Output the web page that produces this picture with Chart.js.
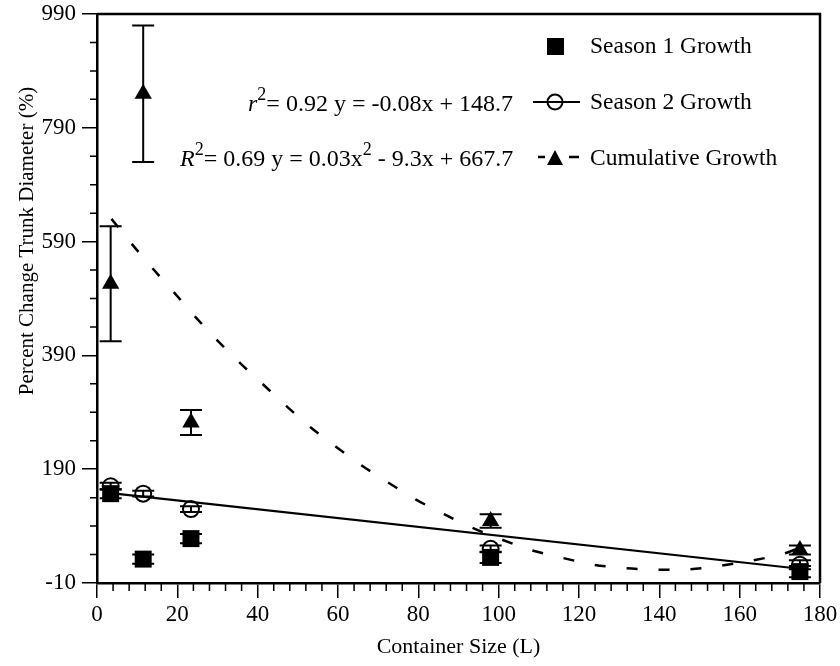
<!DOCTYPE html>
<html>
<head>
<meta charset="utf-8">
<script src="https://cdn.jsdelivr.net/npm/chart.js@4.4.0/dist/chart.umd.min.js"></script>
<style>
  html, body { margin: 0; padding: 0; background: #fff; }
</style>
</head>
<body>
<canvas id="trunk_chart" width="840" height="666"></canvas>
<script>
// container sizes (L) and growth per season, with error bar half-widths
const containerSizes = [3.4, 11.5, 23.4, 98, 175];
const season1 = [147, 32, 68, 35, 10];
const season1Err = [8, 8, 8, 10, 10];
const season2 = [160, 147, 120, 50, 22];
const season2Err = [6, 5, 5, 6, 8];
const cumulative = [516, 850, 272, 99, 48];
const cumulativeErr = [101, 120, 22, 12, 8];

// fitted trends
const linearFitX = [3.4, 175];
const linearFitY = [148, 15];
const quadFitX = [3.6, 9.0, 14.2, 19.5, 24.7, 30.0, 35.7, 41.5, 47.3, 53.3, 59.4, 65.8, 72.4, 79.3, 86.4, 93.4, 100.5, 108, 116, 123.7, 131.7, 139.4, 147.4, 154.9, 162.8, 170.7, 175];
const quadFitY = [630, 583, 540, 498, 456, 416, 376, 338, 300, 263, 230, 197, 167, 137, 111, 87, 67, 48, 34, 22, 16, 13.5, 14, 20, 29, 41, 52];

const xTicks = [0, 20, 40, 60, 80, 100, 120, 140, 160, 180];
const yTicks = [-10, 190, 390, 590, 790, 990];

const FONT = "'Liberation Serif', 'Times New Roman', serif";
Chart.defaults.font.family = FONT;
Chart.defaults.color = "#000";

const toPoints = (xs, ys) => xs.map((x, i) => ({ x: x, y: ys[i] }));

// vertical error bars with caps, drawn under the markers
const errorBars = {
  id: "errorBars",
  beforeDatasetsDraw(chart) {
    const ctx = chart.ctx;
    const xs = chart.scales.x, ys = chart.scales.y;
    ctx.save();
    ctx.strokeStyle = "#000";
    ctx.lineWidth = 2;
    chart.data.datasets.forEach(ds => {
      if (!ds.errors) return;
      ds.data.forEach((p, i) => {
        const e = ds.errors[i];
        const px = xs.getPixelForValue(p.x);
        const top = ys.getPixelForValue(p.y + e);
        const bot = ys.getPixelForValue(p.y - e);
        ctx.beginPath();
        ctx.moveTo(px, top); ctx.lineTo(px, bot);
        ctx.moveTo(px - 11, top); ctx.lineTo(px + 11, top);
        ctx.moveTo(px - 11, bot); ctx.lineTo(px + 11, bot);
        ctx.stroke();
      });
    });
    ctx.restore();
  }
};

function drawPieces(ctx, x, y, pieces) {
  pieces.forEach(p => {
    ctx.font = (p.italic ? "italic " : "") + p.size + "px " + FONT;
    ctx.fillText(p.text, x, y + (p.dy || 0));
    x += ctx.measureText(p.text).width;
  });
}

// frame, minor ticks, y title, equations and legend
const decorations = {
  id: "decorations",
  afterDraw(chart) {
    const ctx = chart.ctx;
    const a = chart.chartArea;
    const xs = chart.scales.x, ys = chart.scales.y;
    ctx.save();
    ctx.strokeStyle = "#000";
    ctx.lineWidth = 2.5;
    ctx.beginPath();
    ctx.moveTo(a.left, a.top); ctx.lineTo(a.right, a.top); ctx.lineTo(a.right, a.bottom);
    ctx.stroke();

    ctx.lineWidth = 1.5;
    ctx.beginPath();
    for (let v = 0; v <= 180; v += 4) {
      if (v % 20 === 0) continue;
      const px = xs.getPixelForValue(v);
      ctx.moveTo(px, a.bottom); ctx.lineTo(px, a.bottom + 8);
    }
    for (let v = -10; v <= 990; v += 50) {
      if ((v + 10) % 200 === 0) continue;
      const py = ys.getPixelForValue(v);
      ctx.moveTo(a.left, py); ctx.lineTo(a.left - 7, py);
    }
    ctx.stroke();

    ctx.fillStyle = "#000";
    ctx.textBaseline = "middle";
    ctx.textAlign = "center";
    ctx.save();
    ctx.translate(27, 241);
    ctx.rotate(-Math.PI / 2);
    ctx.font = "21px " + FONT;
    ctx.fillText("Percent Change Trunk Diameter (%)", 0, 0);
    ctx.restore();

    ctx.textAlign = "left";
    drawPieces(ctx, 248, 105, [
      { text: "r", size: 24, italic: true },
      { text: "2", size: 18, dy: -10 },
      { text: "= 0.92 y = -0.08x + 148.7", size: 24 }
    ]);
    drawPieces(ctx, 180, 160, [
      { text: "R", size: 24, italic: true },
      { text: "2", size: 18, dy: -10 },
      { text: "= 0.69 y = 0.03x", size: 24 },
      { text: "2", size: 18, dy: -10 },
      { text: " - 9.3x + 667.7", size: 24 }
    ]);

    // legend
    ctx.font = "23.5px " + FONT;
    ctx.fillText("Season 1 Growth", 590, 47);
    ctx.fillText("Season 2 Growth", 590, 103);
    ctx.fillText("Cumulative Growth", 590, 159);
    ctx.fillRect(547, 38, 17, 17);
    ctx.lineWidth = 2;
    ctx.beginPath();
    ctx.moveTo(533, 102); ctx.lineTo(580, 102);
    ctx.stroke();
    ctx.beginPath();
    ctx.arc(555, 102, 7.5, 0, Math.PI * 2);
    ctx.stroke();
    ctx.lineWidth = 2.5;
    ctx.beginPath();
    ctx.moveTo(538, 157); ctx.lineTo(545, 157);
    ctx.moveTo(569, 157); ctx.lineTo(579, 157);
    ctx.stroke();
    ctx.beginPath();
    ctx.moveTo(555, 150); ctx.lineTo(563, 165); ctx.lineTo(547, 165);
    ctx.closePath();
    ctx.fill();
    ctx.restore();
  }
};

const ctx = document.getElementById("trunk_chart").getContext("2d");
new Chart(ctx, {
  type: "scatter",
  data: {
    datasets: [
      {
        label: "Season 2 Growth fit",
        type: "line",
        data: toPoints(linearFitX, linearFitY),
        borderColor: "#000",
        borderWidth: 2.2,
        pointRadius: 0,
        fill: false
      },
      {
        label: "Cumulative Growth fit",
        type: "line",
        data: toPoints(quadFitX, quadFitY),
        borderColor: "#000",
        borderWidth: 2.5,
        borderDash: [11, 21],
        pointRadius: 0,
        tension: 0.3,
        fill: false
      },
      {
        label: "Season 1 Growth",
        data: toPoints(containerSizes, season1),
        errors: season1Err,
        pointStyle: "rect",
        pointRadius: 12,
        backgroundColor: "#000",
        borderColor: "#000",
        borderWidth: 0
      },
      {
        label: "Season 2 Growth",
        data: toPoints(containerSizes, season2),
        errors: season2Err,
        pointStyle: "circle",
        pointRadius: 8,
        backgroundColor: "rgba(0,0,0,0)",
        borderColor: "#000",
        borderWidth: 2
      },
      {
        label: "Cumulative Growth",
        data: toPoints(containerSizes, cumulative),
        errors: cumulativeErr,
        pointStyle: "triangle",
        pointRadius: 10,
        backgroundColor: "#000",
        borderColor: "#000",
        borderWidth: 0
      }
    ]
  },
  options: {
    responsive: false,
    animation: false,
    layout: { padding: { top: 14, right: 20, left: 0, bottom: 0 } },
    plugins: { legend: { display: false }, tooltip: { enabled: false } },
    scales: {
      x: {
        type: "linear",
        min: 0,
        max: 180,
        afterBuildTicks: s => { s.ticks = xTicks.map(v => ({ value: v })); },
        afterFit: s => { s.height = 83; s.paddingLeft = 0; s.paddingRight = 0; },
        grid: { drawOnChartArea: false, tickLength: 15, color: "#000", lineWidth: 1.5 },
        border: { color: "#000", width: 2.5 },
        ticks: { color: "#000", font: { size: 23 }, padding: 3, maxRotation: 0 },
        title: { display: true, text: "Container Size (L)", color: "#000", font: { size: 22 }, padding: { top: 0, bottom: 6 } }
      },
      y: {
        type: "linear",
        min: -10,
        max: 990,
        afterBuildTicks: s => { s.ticks = yTicks.map(v => ({ value: v })); },
        afterFit: s => { s.width = 97; s.paddingTop = 0; s.paddingBottom = 0; },
        grid: { drawOnChartArea: false, tickLength: 15, color: "#000", lineWidth: 1.5 },
        border: { color: "#000", width: 2.5 },
        ticks: { color: "#000", font: { size: 23 }, padding: 6 }
      }
    }
  },
  plugins: [errorBars, decorations]
});
</script>
</body>
</html>
